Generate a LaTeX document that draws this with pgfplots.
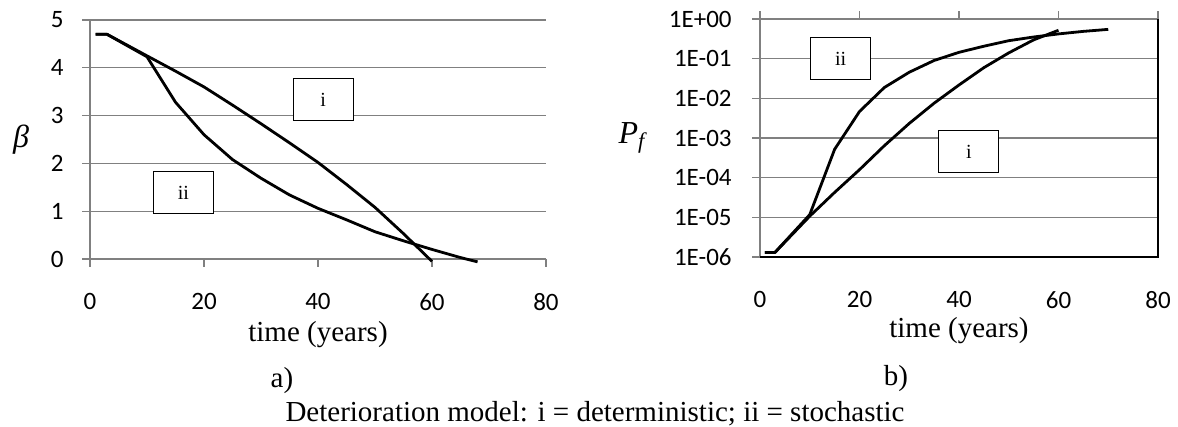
\documentclass[border=0pt]{standalone}
\usepackage{fontspec}
\setmainfont{Liberation Serif}
\newfontfamily\tickfont{Carlito}
\usepackage{pgfplots}
\pgfplotsset{compat=1.18}

% beta(t) read off panel a)
\pgfplotstableread{
t    det
1    4.70
3    4.70
10   4.25
15   3.93
20   3.60
25   3.22
30   2.83
35   2.43
40   2.02
45   1.56
50   1.08
55   0.53
60  -0.05
}\betadet
\pgfplotstableread{
t    sto
1    4.70
3    4.70
10   4.23
15   3.28
20   2.60
25   2.08
30   1.69
35   1.34
40   1.06
45   0.82
50   0.57
55   0.38
60   0.20
65   0.03
68  -0.06
}\betasto
% Pf(t) read off panel b)
\pgfplotstableread{
t    det
1    1.30e-6
3    1.30e-6
10   1.07e-5
15   4.25e-5
20   1.59e-4
25   6.41e-4
30   2.33e-3
35   7.55e-3
40   2.17e-2
45   5.94e-2
50   1.40e-1
55   2.98e-1
60   5.20e-1
}\pfdet
\pgfplotstableread{
t    sto
1    1.30e-6
3    1.30e-6
10   1.17e-5
15   5.19e-4
20   4.66e-3
25   1.88e-2
30   4.55e-2
35   9.01e-2
40   1.446e-1
45   2.06e-1
50   2.84e-1
55   3.52e-1
60   4.21e-1
65   4.88e-1
70   5.48e-1
}\pfsto

\tikzset{
  curve/.style={black, line width=1.4pt, line join=round},
  tag/.style={draw=black, line width=0.5pt, fill=white, minimum width=30pt, minimum height=21pt, inner sep=0pt, font=\fontsize{10}{10}\selectfont},
}
\pgfplotsset{excelaxis/.style={
  scale only axis, clip=false,
  tick align=outside, major tick length=4pt,
  tick style={black!50, line width=0.6pt},
  ymajorgrids, major grid style={black!50, line width=0.6pt},
  axis line style={black!50, line width=0.6pt, -},
  every outer x axis line/.append style={-},
  every outer y axis line/.append style={-},
  ticklabel style={font=\tickfont\fontsize{12.5}{13}\selectfont, inner sep=0pt},
  /pgf/number format/assume math mode=true,
  xlabel style={font=\fontsize{14.5}{16}\selectfont, inner sep=0pt, at={(axis description cs:0.5,0)}, anchor=base, yshift=-41.5pt},
  ylabel style={font=\fontsize{16}{16}\selectfont, at={(axis description cs:0,0.5)}, anchor=center, rotate=-90},
}}

\begin{document}
\begin{tikzpicture}
\useasboundingbox (0,0) rectangle (589pt,213.5pt);

\begin{axis}[excelaxis,
  at={(45pt,84pt)}, anchor=south west, width=228pt, height=119.5pt,
  xmin=0, xmax=80, ymin=0, ymax=5,
  xtick={0,20,40,60,80}, ytick={0,1,2,3,4,5},
  axis x line*=bottom, axis y line*=left,
  xticklabel style={anchor=north, yshift=-13pt},
  yticklabel style={anchor=east, xshift=-9pt},
  xlabel={time (years)},
  ylabel={\itshape β}, ylabel style={xshift=-34.5pt},
]
\addplot[curve, no markers] table[x=t, y=det] {\betadet};
\addplot[curve, no markers] table[x=t, y=sto] {\betasto};
\node[tag] at (axis cs:40.9,3.33) {i};
\node[tag] at (axis cs:16.4,1.39) {ii};
\end{axis}

\begin{axis}[excelaxis,
  at={(380pt,85pt)}, anchor=south west, width=199pt, height=119pt,
  xmin=0, xmax=80, ymode=log, ymin=1e-6, ymax=1,
  xtick={0,20,40,60,80}, ytick={1e-6,1e-5,1e-4,1e-3,1e-2,1e-1,1},
  yticklabels={1E-06,1E-05,1E-04,1E-03,1E-02,1E-01,1E+00},
  yminorticks=false, log basis y=10,
  xtick pos=upper, xticklabel pos=lower, ytick pos=left,
  xticklabel style={anchor=north, yshift=-13pt},
  yticklabel style={anchor=east, xshift=-10pt},
  xlabel={time (years)}, xlabel style={yshift=1pt},
  ylabel={\itshape P\textsubscript{f}}, ylabel style={xshift=-64pt},
]
\addplot[curve, no markers] table[x=t, y=det] {\pfdet};
\addplot[curve, no markers] table[x=t, y=sto] {\pfsto};
\draw[black, line width=1pt] (rel axis cs:0,0) -- (rel axis cs:1,0) -- (rel axis cs:1,1);
\node[tag] at (axis cs:16.2,0.1) {ii};
\node[tag] at (axis cs:42,4.5e-4) {i};
\end{axis}

\node[anchor=base, font=\fontsize{14.5}{16}\selectfont] at (141pt,19.5pt) {a)};
\node[anchor=base, font=\fontsize{14.5}{16}\selectfont] at (448pt,20.5pt) {b)};
\node[anchor=base, font=\fontsize{14.5}{16}\selectfont] at (297.5pt,2.5pt)
  {Deterioration model: i = deterministic; ii = stochastic};
\end{tikzpicture}
\end{document}
